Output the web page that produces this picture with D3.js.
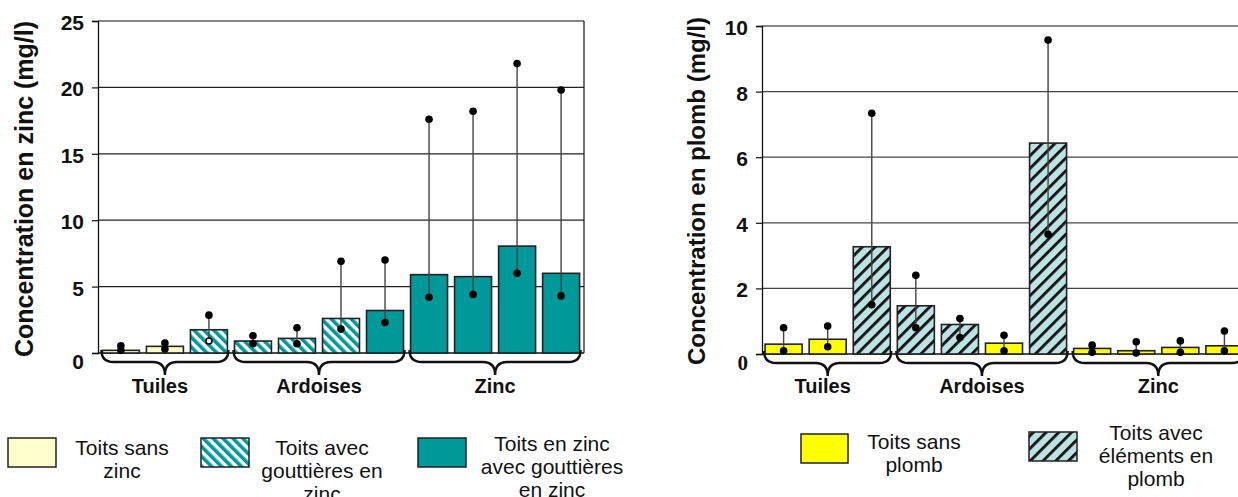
<!DOCTYPE html>
<html>
<head>
<meta charset="utf-8">
<script src="https://cdn.jsdelivr.net/npm/d3@7/dist/d3.min.js"></script>
<style>
  body { margin: 0; background: #fff; }
  svg { display: block; }
</style>
</head>
<body>
<svg id="chart" width="1238" height="497"></svg>
<script>
  "use strict";

  /***** Données *****/
  // Graphique zinc
  var zincGroupes = ["Tuiles", "Ardoises", "Zinc"];
  var zincBarresParGroupe = [3, 4, 4];
  var zincTypes = ["sans", "sans", "gout", "gout", "gout", "gout", "zinc", "zinc", "zinc", "zinc", "zinc"];
  var zincMoyennes = [0.2, 0.5, 1.75, 0.9, 1.1, 2.6, 3.2, 5.9, 5.75, 8.05, 6.0];
  var zincMax = [0.55, 0.75, 2.85, 1.3, 1.9, 6.9, 7.0, 17.6, 18.2, 21.8, 19.8];
  var zincMin = [0.2, 0.3, 0.9, 0.7, 0.7, 1.8, 2.3, 4.2, 4.4, 6.0, 4.3];
  var zincMinCreux = [false, false, true, false, false, false, false, false, false, false, false];
  var zincTicks = [0, 5, 10, 15, 20, 25];
  var zincLegende = [["Toits sans", "zinc"], ["Toits avec", "gouttières en", "zinc"], ["Toits en zinc", "avec gouttières", "en zinc"]];
  var zincLegendeTypes = ["sans", "gout", "zinc"];

  // Graphique plomb
  var plombGroupes = ["Tuiles", "Ardoises", "Zinc"];
  var plombBarresParGroupe = [3, 4, 4];
  var plombTypes = ["sans", "sans", "avec", "avec", "avec", "sans", "avec", "sans", "sans", "sans", "sans"];
  var plombMoyennes = [0.3, 0.45, 3.27, 1.47, 0.9, 0.33, 6.43, 0.17, 0.1, 0.2, 0.25];
  var plombMax = [0.8, 0.85, 7.34, 2.4, 1.08, 0.57, 9.57, 0.27, 0.37, 0.4, 0.7];
  var plombMin = [0.1, 0.22, 1.5, 0.8, 0.5, 0.1, 3.65, 0.05, 0.03, 0.05, 0.1];
  var plombTicks = [0, 2, 4, 6, 8, 10];
  var plombLegende = [["Toits sans", "plomb"], ["Toits avec", "éléments en", "plomb"]];
  var plombLegendeTypes = ["sans", "avec"];

  /***** Configuration *****/
  var police = "'Liberation Sans', Arial, sans-serif";
  var svg = d3.select("#chart");
  var defs = svg.append("defs");

  // Motif rayé sarcelle (gouttières en zinc)
  var rayures = defs.append("pattern")
    .attr("id", "rayuresZinc")
    .attr("patternUnits", "userSpaceOnUse")
    .attr("width", 7).attr("height", 7)
    .attr("patternTransform", "rotate(-45)");
  rayures.append("rect").attr("width", 7).attr("height", 7).attr("fill", "#fff");
  rayures.append("rect").attr("width", 3.6).attr("height", 7).attr("fill", "#009999");

  // Motif hachuré (éléments en plomb)
  var hachures = defs.append("pattern")
    .attr("id", "hachuresPlomb")
    .attr("patternUnits", "userSpaceOnUse")
    .attr("width", 9).attr("height", 9)
    .attr("patternTransform", "rotate(45)");
  hachures.append("rect").attr("width", 9).attr("height", 9).attr("fill", "#bde2e3");
  hachures.append("rect").attr("width", 2.8).attr("height", 9).attr("fill", "#111");

  var remplissage = {
    sans: "#ffffcc",
    gout: "url(#rayuresZinc)",
    zinc: "#009999"
  };
  var remplissagePlomb = {
    sans: "#ffff00",
    avec: "url(#hachuresPlomb)"
  };

  // Accolade sous un groupe de barres
  function accolade(x0, x1, y0) {
    var mid = (x0 + x1) / 2, y1 = y0 + 12, y2 = y0 + 25, r = 12;
    return "M" + x0 + "," + y0 +
      " Q" + x0 + "," + y1 + " " + (x0 + r) + "," + y1 +
      " L" + (mid - r) + "," + y1 +
      " Q" + mid + "," + y1 + " " + mid + "," + y2 +
      " Q" + mid + "," + y1 + " " + (mid + r) + "," + y1 +
      " L" + (x1 - r) + "," + y1 +
      " Q" + x1 + "," + y1 + " " + x1 + "," + y0;
  }

  function dessinerGraphique(cfg) {
    var g = svg.append("g");
    var n = cfg.moyennes.length;
    var x = d3.scaleBand().domain(d3.range(n))
      .range([cfg.gauche, cfg.droite]).paddingInner(0.16).paddingOuter(cfg.padOut);
    var y = d3.scaleLinear().domain([0, cfg.ticks[cfg.ticks.length - 1]]).range([cfg.bas, cfg.haut]);

    // Grille
    g.selectAll("line.grille").data(cfg.ticks.slice(1))
      .enter().append("line")
      .attr("x1", cfg.gauche).attr("x2", cfg.bordDroit)
      .attr("y1", function(d) { return y(d); }).attr("y2", function(d) { return y(d); })
      .attr("stroke", function(d, i) { return i === cfg.ticks.length - 2 ? "#111" : cfg.couleurGrille; })
      .attr("stroke-width", 1.2);
    if (cfg.cadreDroit) {
      g.append("line")
        .attr("x1", cfg.droite).attr("x2", cfg.droite)
        .attr("y1", y(cfg.ticks[cfg.ticks.length - 1])).attr("y2", y(0))
        .attr("stroke", "#111").attr("stroke-width", 1.2);
    }

    // Axe vertical
    var axe = g.append("g")
      .attr("transform", "translate(" + cfg.gauche + ",0)")
      .call(d3.axisLeft(y).tickValues(cfg.ticks).tickSize(6).tickPadding(8));
    axe.select(".domain").attr("stroke", "#111").attr("stroke-width", 1.3);
    axe.selectAll(".tick line").attr("stroke", "#111").attr("stroke-width", 1.2);
    axe.selectAll(".tick text")
      .attr("font-family", function(d) { return d === 0 && cfg.zeroSerif ? "'Liberation Serif', serif" : police; })
      .attr("font-weight", "bold")
      .attr("font-size", 21)
      .attr("fill", "#111")
      .attr("dy", function(d) { return d === 0 ? "0.75em" : "0.4em"; });

    // Ligne de base
    g.append("line")
      .attr("x1", cfg.gauche).attr("x2", cfg.bordDroit)
      .attr("y1", y(0)).attr("y2", y(0))
      .attr("stroke", "#111").attr("stroke-width", 1.3);

    // Barres
    g.selectAll("rect.barre").data(cfg.moyennes)
      .enter().append("rect")
      .attr("x", function(d, i) { return x(i); })
      .attr("y", function(d) { return y(d); })
      .attr("width", x.bandwidth())
      .attr("height", function(d) { return y(0) - y(d); })
      .attr("fill", function(d, i) { return cfg.couleurs[cfg.types[i]]; })
      .attr("stroke", "#222").attr("stroke-width", 1.6);

    // Étendues min-max
    var cx = function(i) { return x(i) + x.bandwidth() / 2; };
    g.selectAll("line.etendue").data(cfg.moyennes)
      .enter().append("line")
      .attr("x1", function(d, i) { return cx(i); }).attr("x2", function(d, i) { return cx(i); })
      .attr("y1", function(d, i) { return y(cfg.max[i]); })
      .attr("y2", function(d, i) { return y(cfg.min[i]); })
      .attr("stroke", "#444").attr("stroke-width", 1.4);
    g.selectAll("circle.max").data(cfg.max)
      .enter().append("circle")
      .attr("cx", function(d, i) { return cx(i); })
      .attr("cy", function(d) { return y(d); })
      .attr("r", 3.8).attr("fill", "#000");
    g.selectAll("circle.min").data(cfg.min)
      .enter().append("circle")
      .attr("cx", function(d, i) { return cx(i); })
      .attr("cy", function(d) { return y(d); })
      .attr("r", function(d, i) { return cfg.creux && cfg.creux[i] ? 3 : 3.8; })
      .attr("fill", function(d, i) { return cfg.creux && cfg.creux[i] ? "#fff" : "#000"; })
      .attr("stroke", "#000")
      .attr("stroke-width", function(d, i) { return cfg.creux && cfg.creux[i] ? 1.6 : 0; });

    // Accolades et noms de groupes
    var debut = 0;
    cfg.groupes.forEach(function(nom, k) {
      var premier = debut, dernier = debut + cfg.parGroupe[k] - 1;
      var x0 = x(premier) - 1, x1 = x(dernier) + x.bandwidth() + 1;
      g.append("path")
        .attr("d", accolade(x0, x1, y(0) - 3))
        .attr("fill", "none").attr("stroke", "#111").attr("stroke-width", 2.4);
      g.append("text")
        .attr("x", (x0 + x1) / 2 - (k === 0 ? 5 : 0)).attr("y", 393)
        .attr("text-anchor", "middle")
        .attr("font-family", police).attr("font-weight", "bold").attr("font-size", 20)
        .attr("fill", "#111")
        .text(nom);
      debut += cfg.parGroupe[k];
    });

    // Titre de l'axe
    g.append("text")
      .attr("transform", "translate(" + cfg.titreX + "," + cfg.titreY + ") rotate(-90)")
      .attr("text-anchor", "middle")
      .attr("font-family", police).attr("font-weight", "bold").attr("font-size", cfg.titreTaille)
      .attr("fill", "#111")
      .text(cfg.titre);

    // Légende
    cfg.legende.forEach(function(lignes, k) {
      var pos = cfg.posLegende[k];
      g.append("rect")
        .attr("x", pos.bx).attr("y", pos.by).attr("width", pos.bw).attr("height", 29)
        .attr("fill", cfg.couleurs[cfg.legendeTypes[k]])
        .attr("stroke", "#222").attr("stroke-width", 1.5);
      var t = g.append("text")
        .attr("text-anchor", "middle")
        .attr("font-family", police).attr("font-size", 21).attr("fill", "#111");
      lignes.forEach(function(l, j) {
        t.append("tspan").attr("x", pos.tx).attr("y", pos.ty + j * 23).text(l);
      });
    });
  }

  dessinerGraphique({
    groupes: zincGroupes, parGroupe: zincBarresParGroupe, types: zincTypes,
    moyennes: zincMoyennes, max: zincMax, min: zincMin, creux: zincMinCreux,
    ticks: zincTicks, couleurs: remplissage,
    gauche: 98, droite: 584, bordDroit: 584, padOut: 0.1, haut: 21, bas: 353,
    couleurGrille: "#222", cadreDroit: true, zeroSerif: false,
    titre: "Concentration en zinc (mg/l)", titreX: 33, titreY: 189, titreTaille: 25,
    legende: zincLegende, legendeTypes: zincLegendeTypes,
    posLegende: [
      { bx: 8, by: 438, bw: 48, tx: 122, ty: 455 },
      { bx: 201, by: 438, bw: 48, tx: 322, ty: 455 },
      { bx: 418, by: 438, bw: 48, tx: 552, ty: 451 }
    ]
  });

  dessinerGraphique({
    groupes: plombGroupes, parGroupe: plombBarresParGroupe, types: plombTypes,
    moyennes: plombMoyennes, max: plombMax, min: plombMin, creux: null,
    ticks: plombTicks, couleurs: remplissagePlomb,
    gauche: 762, droite: 1246, bordDroit: 1238, padOut: 0.07, haut: 26, bas: 354,
    couleurGrille: "#444", cadreDroit: false, zeroSerif: true,
    titre: "Concentration en plomb (mg/l)", titreX: 705, titreY: 191, titreTaille: 24,
    legende: plombLegende, legendeTypes: plombLegendeTypes,
    posLegende: [
      { bx: 801, by: 434, bw: 47, tx: 914, ty: 449 },
      { bx: 1029, by: 432, bw: 48, tx: 1156, ty: 440 }
    ]
  });
</script>
</body>
</html>
